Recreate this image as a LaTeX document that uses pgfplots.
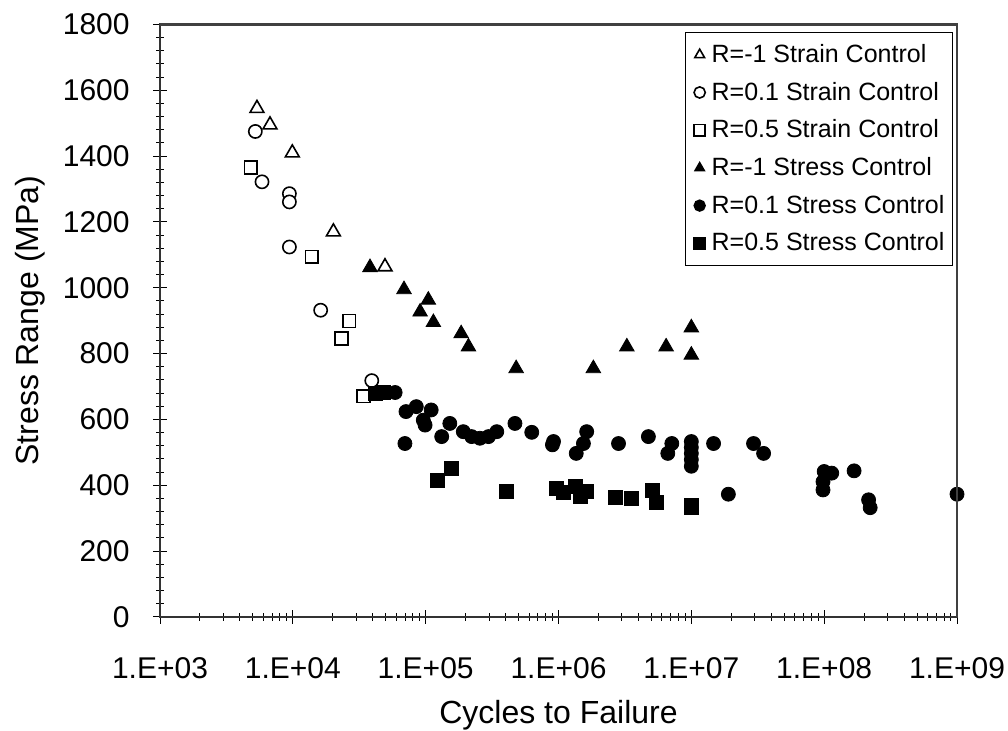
\documentclass[border=0pt]{standalone}
\usepackage{fontspec}
\setmainfont{Liberation Sans}
\usepackage{pgfplots}
\pgfplotsset{compat=1.18}
\begin{document}
\begin{tikzpicture}
\useasboundingbox (-80pt,-57pt) rectangle (424pt,308.5pt);
\begin{axis}[
  name=ax,
  at={(0,0)}, anchor=south west,
  scale only axis, width=398.5pt, height=296.25pt,
  xmode=log, xmin=1e3, xmax=1e9, ymin=0, ymax=1800,
  xtick={1e3,1e4,1e5,1e6,1e7,1e8,1e9},
  xticklabels={1.E+03,1.E+04,1.E+05,1.E+06,1.E+07,1.E+08,1.E+09},
  ytick={0,200,...,1800},
  yticklabels={0,200,400,600,800,1000,1200,1400,1600,1800},
  minor y tick num=4,
  xtick pos=left, ytick pos=left,
  tick align=center,
  major tick length=7pt, minor tick length=4pt,
  tick style={black, line width=0.5pt},
  axis line style={black!80, line width=1.1pt},
  xticklabel style={font=\fontsize{15}{18}\selectfont, anchor=center, yshift=-22pt},
  yticklabel style={font=\fontsize{15}{18}\selectfont, anchor=east, inner sep=0pt, xshift=-11.5pt},
  xlabel={Cycles to Failure},
  ylabel={Stress Range (MPa)},
  xlabel style={font=\fontsize{16}{19}\selectfont, at={(axis description cs:0.5,0)}, anchor=center, yshift=-49pt},
  ylabel style={font=\fontsize{16}{19}\selectfont, at={(axis description cs:-0.163,0.5)}, anchor=center},
  legend style={at={(axis description cs:0.995,0.988)}, anchor=north east, draw=black, line width=0.6pt,
    font=\fontsize{12.5}{14}\selectfont, row sep=4.3pt, inner xsep=2pt, inner ysep=4pt, cells={anchor=west}},
  legend image code/.code={\path[draw=none] (-5pt,0pt) -- (4pt,0pt); \draw[#1, mark size=2.8pt] plot coordinates {(0pt,0pt)};},
  legend cell align=left,
]
% R=-1 strain control
\addplot[only marks, mark=triangle*, mark size=4pt, mark options={draw=black, fill=white, line width=0.8pt}] coordinates {
 (5370,1545) (6730,1495) (9910,1410) (20200,1170) (49400,1064)
};
\addlegendentry{R=-1 Strain Control}
% R=0.1 strain control
\addplot[only marks, mark=*, mark size=3.3pt, mark options={draw=black, fill=white, line width=0.8pt}] coordinates {
 (5220,1475) (5860,1322) (9420,1286) (9420,1261) (9420,1124) (16200,932) (39300,718)
};
\addlegendentry{R=0.1 Strain Control}
% R=0.5 strain control
\addplot[only marks, mark=square*, mark size=3.2pt, mark options={draw=black, fill=white, line width=0.8pt}] coordinates {
 (4820,1365) (13870,1094) (26600,899) (23300,846) (34000,671)
};
\addlegendentry{R=0.5 Strain Control}
% R=-1 stress control
\addplot[only marks, mark=triangle*, mark size=4.2pt, mark options={draw=black, fill=black}] coordinates {
 (38100,1062) (68700,995) (104700,963) (90800,927) (114300,895) (185000,861) (210000,821)
 (480000,755) (1830000,755) (3270000,821) (6460000,821) (10000000,879) (10000000,796)
};
\addlegendentry{R=-1 Stress Control}
% R=0.1 stress control
\addplot[only marks, mark=*, mark size=3.5pt, mark options={draw=black, fill=black}] coordinates {
 (58900,682) (71100,624) (85000,639) (110000,629) (99000,583) (96000,598) (132000,548)
 (152000,588) (69800,527) (192000,563) (222000,548) (256000,543) (297000,548) (343000,563)
 (470000,588) (629000,561) (917000,533) (900000,523) (1630000,563) (1540000,527) (1360000,497)
 (2830000,527) (4750000,548) (7130000,527) (6650000,497)
 (10000000,533) (10000000,515) (10000000,497) (10000000,478) (10000000,458)
 (14700000,527) (29400000,527) (35000000,497) (19000000,373)
 (100000000,442) (114000000,437) (98000000,411) (98000000,386) (168000000,444)
 (216000000,356) (222000000,332) (1000000000,373)
};
\addlegendentry{R=0.1 Stress Control}
% R=0.5 stress control
\addplot[only marks, mark=square*, mark size=3.5pt, mark options={draw=black, fill=black}] coordinates {
 (41600,679) (48000,683) (122000,416) (157000,452) (408000,383) (968000,391) (1090000,379)
 (1330000,396) (1460000,366) (1630000,383) (2670000,363) (3520000,359) (5120000,386)
 (5480000,347) (10000000,332) (10000000,340)
};
\addlegendentry{R=0.5 Stress Control}
\end{axis}
\draw[black!75, line width=1.3pt] (ax.north west) -- (ax.north east) -- (ax.south east);
\end{tikzpicture}
\end{document}
